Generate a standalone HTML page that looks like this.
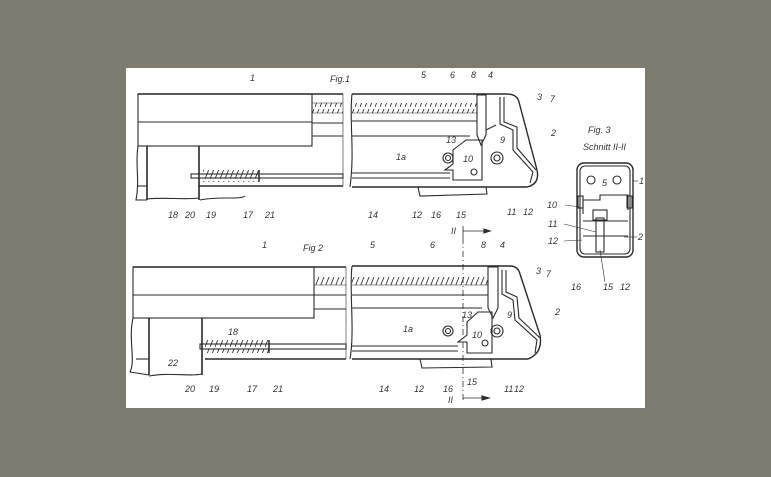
<!DOCTYPE html>
<html><head><meta charset="utf-8"><style>
html,body{margin:0;padding:0;background:#7d7a70;}
svg{display:block}
text{font-family:"Liberation Sans",sans-serif;font-style:italic;font-size:9px;fill:#333}
</style></head><body>
<svg width="771" height="477" viewBox="0 0 771 477" xmlns="http://www.w3.org/2000/svg">
<rect x="0" y="0" width="771" height="477" fill="#7d7a70"/>
<rect x="126" y="68" width="519" height="340" fill="#fff"/>
<defs>
<pattern id="spr" width="5" height="12" patternUnits="userSpaceOnUse">
<line x1="0" y1="11" x2="4" y2="1" stroke="#333" stroke-width="0.9"/>
</pattern>
</defs>
<g stroke="#2a2a2a" fill="none" stroke-width="1.1">
<!-- FIG 1 left -->
<line x1="138" y1="94" x2="343" y2="94" stroke-width="1.6"/>
<rect x="138" y="94" width="174" height="52"/>
<line x1="138" y1="122" x2="312" y2="122"/>
<rect x="312" y="103" width="31" height="10" fill="url(#spr)" stroke="none"/>
<line x1="312" y1="103" x2="343" y2="103" stroke-width="0.6"/>
<line x1="312" y1="113" x2="343" y2="113" stroke-width="0.6"/>
<line x1="312" y1="123" x2="343" y2="123"/>
<line x1="312" y1="136" x2="343" y2="136"/>
<line x1="343" y1="94" x2="343" y2="186" stroke-width="0.6"/>
<line x1="147" y1="146" x2="147" y2="200" stroke-width="1.6"/>
<line x1="199" y1="146" x2="199" y2="200" stroke-width="1.6"/>
<path d="M138 146 C135 165 140 180 136 200 L147 200 M200 200 C220 196 240 200 245 196 M147 199 C165 197 185 200 199 198"/>
<rect x="191" y="174" width="152" height="4"/>
<rect x="203" y="170" width="56" height="12" fill="url(#spr)" stroke="none"/>
<line x1="259" y1="170" x2="259" y2="182" stroke-width="1.5"/>
<line x1="199" y1="186" x2="343" y2="186" stroke-width="1.4"/>
<line x1="137" y1="186" x2="147" y2="186"/>
<!-- FIG 1 right -->
<path d="M352 94 L507 94 Q517 94 519 102 L537 170 Q540 184 527 187 L352 187" stroke-width="1.4"/>
<path d="M352 94 C349 120 355 150 350 187"/>
<rect x="352" y="103" width="125" height="10" fill="url(#spr)" stroke="none"/>
<line x1="352" y1="113" x2="477" y2="113" stroke-width="0.6"/>
<line x1="352" y1="121" x2="477" y2="121"/>
<line x1="352" y1="136" x2="470" y2="136"/>
<path d="M477 95 L477 135 L481 145 L486 135 L486 95 Z"/>
<path d="M486 130 L496 125 M500 97 L500 124 L513 130 L513 150 L533 172 L530 183"/>
<path d="M504 97 L504 122 L517 127 L517 148 L536 170"/>
<path d="M453 150 L466 140 L482 140 L482 180 L453 180 L453 170 L445 170 L453 164 Z"/>
<circle cx="448" cy="158" r="5"/><circle cx="448" cy="158" r="2.5"/>
<circle cx="497" cy="158" r="6"/><circle cx="497" cy="158" r="3"/>
<circle cx="474" cy="172" r="3"/>
<line x1="352" y1="173" x2="450" y2="173"/><line x1="352" y1="178" x2="450" y2="178"/>
<path d="M418 187 L420 196 L487 194 L486 187"/>
<path d="M463 226 L463 238 M463 231 L488 231" stroke-width="0.8"/>
<path d="M484 229 L490 231 L484 233 Z" fill="#333"/>
<!-- FIG 2 left -->
<line x1="133" y1="267" x2="346" y2="267" stroke-width="1.6"/>
<rect x="133" y="267" width="181" height="51"/>
<line x1="133" y1="295" x2="314" y2="295"/>
<rect x="314" y="275" width="32" height="10" fill="url(#spr)" stroke="none"/>
<line x1="314" y1="285" x2="346" y2="285" stroke-width="0.6"/>
<line x1="314" y1="295" x2="346" y2="295"/>
<line x1="314" y1="309" x2="346" y2="309"/>
<line x1="346" y1="267" x2="346" y2="359" stroke-width="0.6"/>
<line x1="149" y1="318" x2="149" y2="375" stroke-width="1.6"/>
<line x1="202" y1="318" x2="202" y2="375" stroke-width="1.6"/>
<path d="M133 318 C128 340 136 360 130 372 L149 375 M149 376 C170 372 190 377 202 374"/>
<rect x="200" y="344" width="146" height="5"/>
<rect x="204" y="340" width="65" height="13" fill="url(#spr)" stroke="none"/>
<line x1="269" y1="340" x2="269" y2="353" stroke-width="1.5"/>
<line x1="205" y1="359" x2="346" y2="359" stroke-width="1.4"/>
<line x1="136" y1="359" x2="149" y2="359"/>
<!-- FIG 2 right -->
<path d="M352 266 L510 266 Q518 266 520 274 L540 335 Q543 353 528 359 L352 359" stroke-width="1.4"/>
<path d="M352 266 C349 290 355 330 350 359"/>
<rect x="352" y="275" width="136" height="10" fill="url(#spr)" stroke="none"/>
<line x1="352" y1="285" x2="488" y2="285" stroke-width="0.6"/>
<line x1="352" y1="295" x2="488" y2="295"/>
<line x1="352" y1="308" x2="482" y2="308"/>
<path d="M488 267 L488 308 L493 318 L498 308 L498 267 Z"/>
<path d="M502 270 L502 294 L513 300 L515 320 L537 340 L535 353"/>
<path d="M506 270 L506 292 L517 297 L519 318 L540 338"/>
<path d="M467 322 L478 312 L492 312 L492 353 L467 353 L467 342 L458 342 L467 335 Z"/>
<circle cx="448" cy="331" r="5"/><circle cx="448" cy="331" r="2.5"/>
<circle cx="497" cy="331" r="6"/><circle cx="497" cy="331" r="3"/>
<circle cx="485" cy="343" r="3"/>
<line x1="352" y1="346" x2="458" y2="346"/><line x1="352" y1="351" x2="458" y2="351"/>
<path d="M420 359 L422 368 L492 367 L491 359"/>
<line x1="463" y1="238" x2="463" y2="402" stroke-width="0.8" stroke-dasharray="6 3 1 3"/>
<line x1="463" y1="398" x2="486" y2="398" stroke-width="0.8"/>
<path d="M482 396 L489 398 L482 400 Z" fill="#333"/>
<!-- FIG 3 -->
<rect x="577" y="163" width="56" height="94" rx="7" stroke-width="1.4"/>
<rect x="580" y="166" width="50" height="88" rx="5"/>
<circle cx="591" cy="180" r="4"/><circle cx="617" cy="180" r="4"/>
<path d="M583 214 L583 200 L600 200 L600 195 L628 195 L628 210"/>
<rect x="578" y="196" width="5" height="12"/><rect x="627" y="196" width="5" height="12"/>
<rect x="593" y="210" width="14" height="10"/>
<rect x="596" y="218" width="8" height="34"/>
<line x1="583" y1="221" x2="628" y2="221"/>
<line x1="583" y1="236" x2="628" y2="236"/>
<g stroke-width="0.6">
<line x1="565" y1="205" x2="580" y2="207"/>
<line x1="564" y1="224" x2="596" y2="232"/>
<line x1="564" y1="241" x2="582" y2="240"/>
<line x1="624" y1="237" x2="637" y2="237"/>
<line x1="633" y1="181" x2="638" y2="181"/>
<line x1="600" y1="250" x2="605" y2="282"/>
</g>
</g>
<!-- labels -->
<g>
<text x="250" y="81">1</text>
<text x="330" y="82" font-size="12">Fig.1</text>
<text x="421" y="78">5</text><text x="450" y="78">6</text><text x="471" y="78">8</text><text x="488" y="78">4</text>
<text x="537" y="100">3</text><text x="550" y="102">7</text><text x="551" y="136">2</text>
<text x="446" y="143">13</text><text x="500" y="143">9</text><text x="396" y="160">1a</text><text x="463" y="162">10</text>
<text x="168" y="218">18</text><text x="185" y="218">20</text><text x="206" y="218">19</text><text x="243" y="218">17</text><text x="265" y="218">21</text>
<text x="368" y="218">14</text><text x="412" y="218">12</text><text x="431" y="218">16</text><text x="456" y="218">15</text><text x="507" y="215">11</text><text x="523" y="215">12</text>
<text x="451" y="234">II</text>
<text x="262" y="248">1</text>
<text x="303" y="251" font-size="12">Fig 2</text>
<text x="370" y="248">5</text><text x="430" y="248">6</text><text x="481" y="248">8</text><text x="500" y="248">4</text>
<text x="536" y="274">3</text><text x="546" y="277">7</text><text x="555" y="315">2</text>
<text x="462" y="318">13</text><text x="507" y="318">9</text><text x="403" y="332">1a</text><text x="472" y="338">10</text>
<text x="228" y="335">18</text><text x="168" y="366">22</text>
<text x="185" y="392">20</text><text x="209" y="392">19</text><text x="247" y="392">17</text><text x="273" y="392">21</text>
<text x="379" y="392">14</text><text x="414" y="392">12</text><text x="443" y="392">16</text><text x="467" y="385">15</text><text x="504" y="392">11</text><text x="514" y="392">12</text>
<text x="448" y="403">II</text>
<text x="588" y="133" font-size="12">Fig. 3</text>
<text x="583" y="150" font-size="8.5">Schnitt II-II</text>
<text x="639" y="184">1</text><text x="602" y="186" font-size="8">5</text>
<text x="547" y="208">10</text><text x="548" y="227">11</text><text x="548" y="244">12</text><text x="638" y="240">2</text>
<text x="571" y="290">16</text><text x="603" y="290">15</text><text x="620" y="290">12</text>
</g>
</svg>
</body></html>
